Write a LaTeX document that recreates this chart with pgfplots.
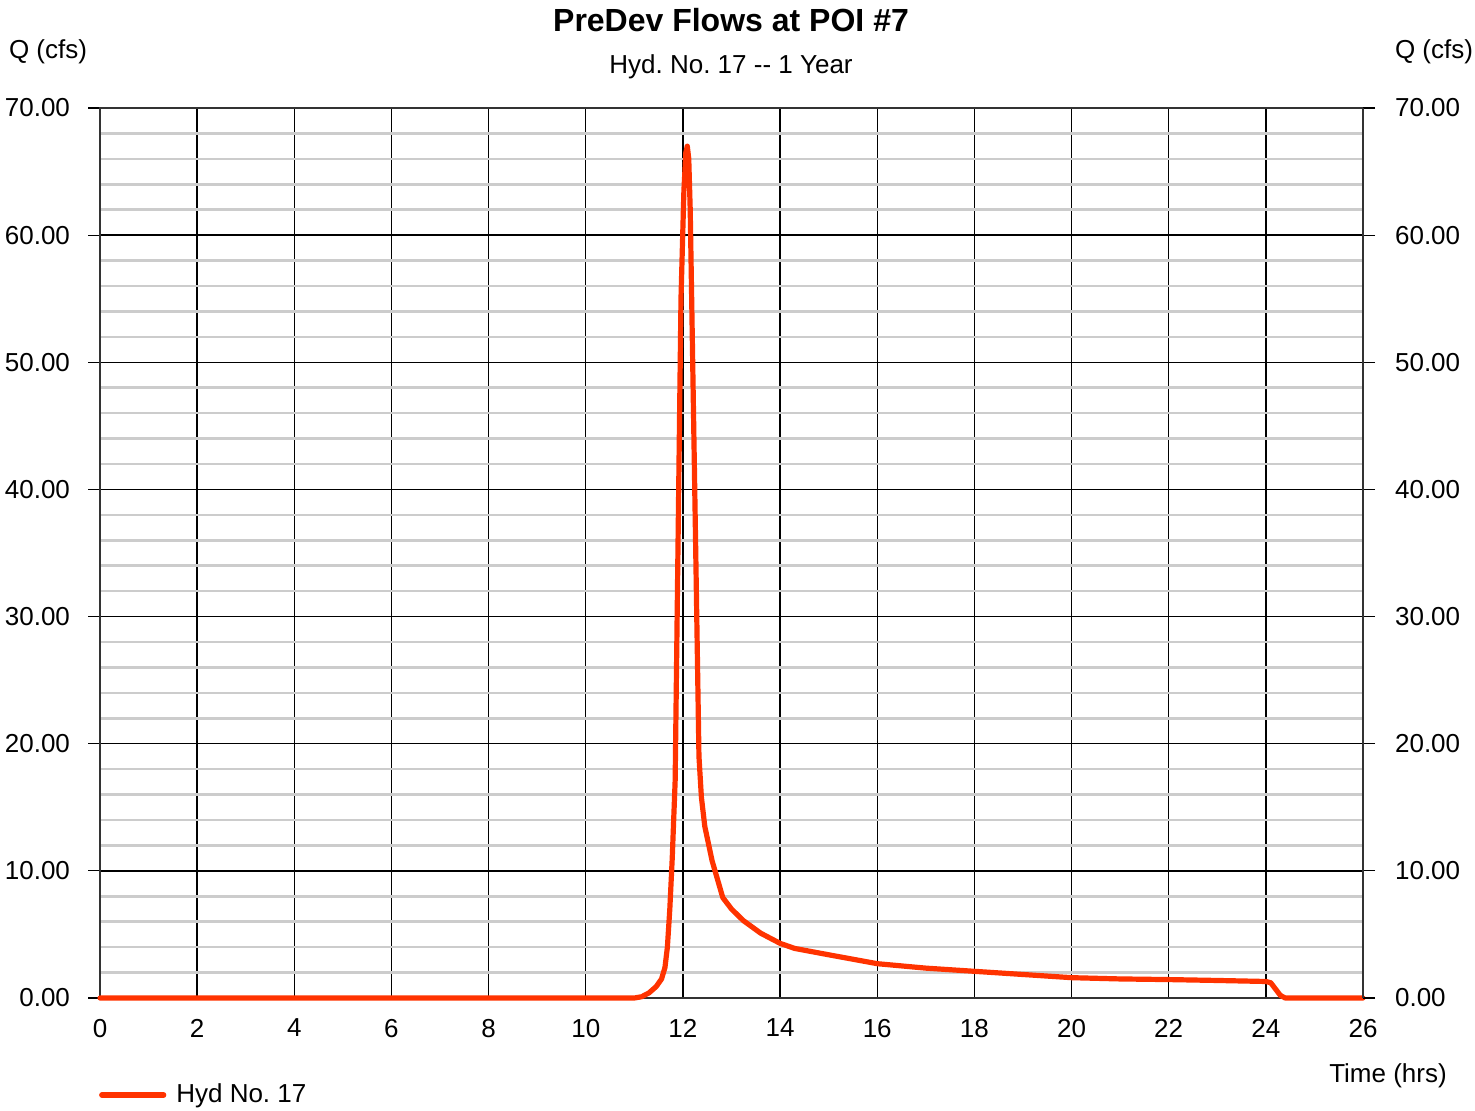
\documentclass[border=0pt]{standalone}
\usepackage{pgfplots}
\pgfplotsset{compat=1.18}
\usepackage{fontspec}
\setmainfont{Liberation Sans}
\frenchspacing
\definecolor{hydred}{RGB}{255,51,0}
\definecolor{minorgray}{RGB}{204,204,204}
\begin{document}
\begin{tikzpicture}
\useasboundingbox (0,0) rectangle (737.5pt,555pt);
\begin{axis}[
  at={(50pt,56pt)}, anchor=south west,
  scale only axis, width=631.5pt, height=445pt,
  xmin=0, xmax=26, ymin=0, ymax=70,
  xtick={0,2,...,26}, ytick={0,10,...,70},
  minor ytick={2,4,6,8,12,14,16,18,22,24,26,28,32,34,36,38,42,44,46,48,52,54,56,58,62,64,66,68},
  grid=both,
  major grid style={black, line width=0.7pt},
  minor grid style={minorgray, line width=1.3pt},
  xtick style={draw=none},
  minor tick length=0pt,
  major tick length=6pt,
  ytick style={black, line width=0.6pt},
  tick align=outside,
  ytick pos=left,
  axis line style={black!80, line width=0.9pt},
  /pgf/number format/assume math mode=true,
  yticklabel={\pgfmathprintnumber[fixed,fixed zerofill,precision=2]{\tick}},
  ticklabel style={font=\fontsize{13pt}{15pt}\selectfont},
  xticklabel style={yshift=-1pt},
  yticklabel style={xshift=-5.5pt},
  clip=false,
  legend style={at={(axis description cs:-0.001,-0.109)}, anchor=west, draw=none, fill=none,
    inner sep=0pt, font=\fontsize{13pt}{15pt}\selectfont, nodes={inner sep=1pt}, column sep=4pt},
  legend image code/.code={\draw[#1, line cap=round] (0pt,0pt) -- (31pt,0pt);},
  legend cell align=left,
]
\addplot[hydred, line width=2.6pt, line join=round, line cap=round] coordinates {
(0,0) (11.0,0) (11.15,0.1) (11.3,0.4) (11.45,0.9) (11.56,1.5) (11.63,2.4)
(11.68,4.0) (11.73,7.0) (11.78,11.0) (11.84,17.1) (11.90,36) (11.96,55)
(12.02,63.5) (12.06,66.5) (12.09,67.0) (12.12,66.0) (12.15,62) (12.18,55)
(12.26,36) (12.33,19) (12.38,15.8) (12.45,13.5) (12.6,10.8) (12.82,7.9) (13.0,7.0)
(13.24,6.1) (13.6,5.1) (14.0,4.3) (14.3,3.9) (15.0,3.4) (16.0,2.7)
(17.0,2.35) (18.0,2.1) (19.0,1.85) (20.0,1.6) (21.0,1.5) (22.0,1.45)
(23.0,1.38) (24.0,1.3) (24.1,1.2) (24.2,0.7) (24.3,0.2) (24.4,0.0) (26,0)
};
\addlegendentry{Hyd No. 17}
\end{axis}
\begin{axis}[
  at={(50pt,56pt)}, anchor=south west,
  scale only axis, width=631.5pt, height=445pt,
  xmin=0, xmax=26, ymin=0, ymax=70,
  axis x line=none, axis y line*=right,
  ytick={0,10,...,70},
  major tick length=6pt, tick align=outside,
  ytick style={black, line width=0.6pt},
  axis line style={black!80, line width=0.9pt},
  /pgf/number format/assume math mode=true,
  yticklabel={\pgfmathprintnumber[fixed,fixed zerofill,precision=2]{\tick}},
  ticklabel style={font=\fontsize{13pt}{15pt}\selectfont},
  yticklabel style={xshift=6.5pt},
]
\end{axis}
\node[font=\bfseries\fontsize{16pt}{19pt}\selectfont] at (365.5pt,545pt) {PreDev Flows at POI \#7};
\node[font=\fontsize{13pt}{15pt}\selectfont] at (365.5pt,521.5pt) {Hyd. No. 17 {-}{-} 1 Year};
\node[font=\fontsize{13pt}{15pt}\selectfont] at (24pt,529pt) {Q (cfs)};
\node[font=\fontsize{13pt}{15pt}\selectfont] at (717pt,529pt) {Q (cfs)};
\node[font=\fontsize{13pt}{15pt}\selectfont] at (694pt,17pt) {Time (hrs)};
\end{tikzpicture}
\end{document}
